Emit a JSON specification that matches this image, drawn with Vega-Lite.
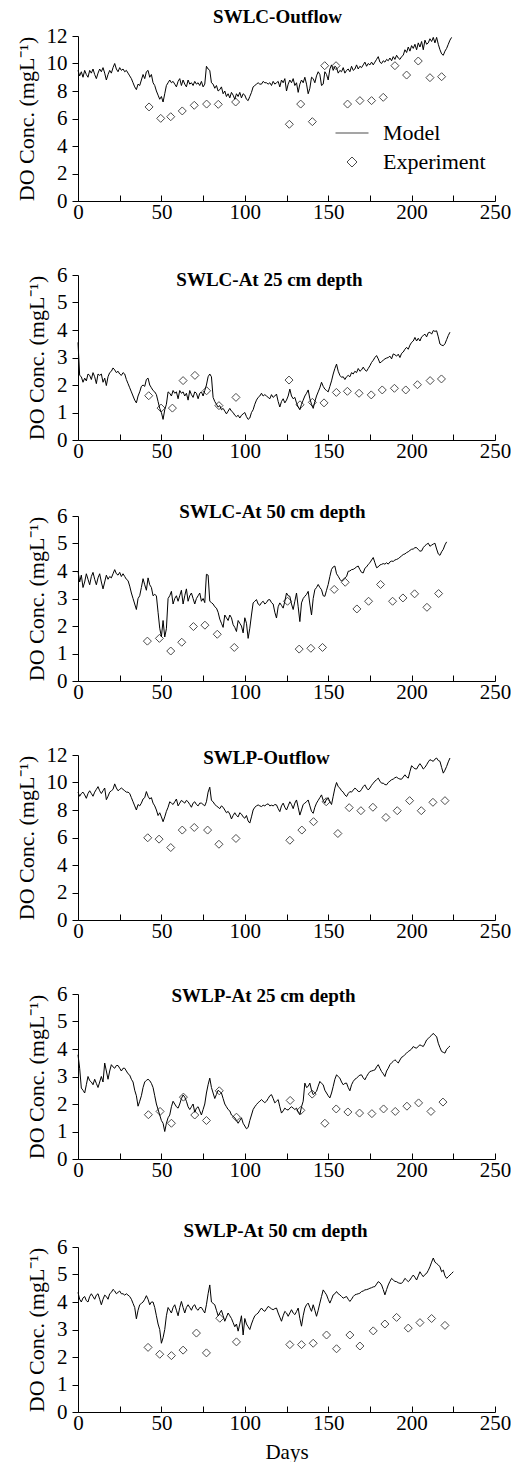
{
"$schema": "https://vega.github.io/schema/vega-lite/v6.json",
"padding": {"left": 14, "top": 8, "right": 0, "bottom": 0},
"background": "white",
"spacing": 42,
"resolve": {"scale": {"shape": "independent"}, "legend": {"shape": "independent"}},
"datasets": {
"m1": [{"d":0,"v":9.5},{"d":1,"v":9.1},{"d":2,"v":9.4},{"d":3,"v":9.0},{"d":4,"v":9.5},{"d":5,"v":9.2},{"d":6,"v":9.0},{"d":7,"v":9.5},{"d":8,"v":9.3},{"d":9,"v":9.6},{"d":10,"v":9.2},{"d":11,"v":8.9},{"d":12,"v":9.3},{"d":13,"v":9.6},{"d":14,"v":9.4},{"d":15,"v":9.7},{"d":16,"v":9.3},{"d":17,"v":8.8},{"d":18,"v":9.2},{"d":19,"v":9.5},{"d":20,"v":9.3},{"d":21,"v":9.7},{"d":22,"v":10.0},{"d":23,"v":9.6},{"d":24,"v":9.4},{"d":25,"v":9.7},{"d":26,"v":9.5},{"d":27,"v":9.6},{"d":28,"v":9.4},{"d":29,"v":9.5},{"d":30,"v":9.3},{"d":31,"v":9.1},{"d":32,"v":8.9},{"d":33,"v":8.6},{"d":34,"v":8.3},{"d":35,"v":8.1},{"d":36,"v":8.5},{"d":37,"v":8.4},{"d":38,"v":8.8},{"d":39,"v":9.2},{"d":40,"v":8.9},{"d":41,"v":9.4},{"d":42,"v":9.5},{"d":43,"v":9.0},{"d":44,"v":9.2},{"d":45,"v":8.6},{"d":46,"v":8.4},{"d":47,"v":8.0},{"d":48,"v":7.7},{"d":49,"v":7.4},{"d":50,"v":7.6},{"d":51,"v":7.2},{"d":52,"v":7.8},{"d":53,"v":8.4},{"d":54,"v":8.6},{"d":55,"v":8.8},{"d":56,"v":8.6},{"d":57,"v":8.7},{"d":58,"v":8.5},{"d":59,"v":8.3},{"d":60,"v":8.7},{"d":61,"v":8.9},{"d":62,"v":8.4},{"d":63,"v":8.8},{"d":64,"v":8.5},{"d":65,"v":8.3},{"d":66,"v":8.8},{"d":67,"v":8.5},{"d":68,"v":8.6},{"d":69,"v":8.4},{"d":70,"v":8.7},{"d":71,"v":8.5},{"d":72,"v":8.6},{"d":73,"v":8.4},{"d":74,"v":8.7},{"d":75,"v":8.3},{"d":76,"v":8.5},{"d":77,"v":9.8},{"d":78,"v":9.6},{"d":79,"v":9.5},{"d":80,"v":8.6},{"d":81,"v":8.5},{"d":82,"v":8.2},{"d":83,"v":8.4},{"d":84,"v":8.0},{"d":85,"v":8.1},{"d":86,"v":8.3},{"d":87,"v":7.8},{"d":88,"v":8.0},{"d":89,"v":7.6},{"d":90,"v":7.8},{"d":91,"v":7.5},{"d":92,"v":7.9},{"d":93,"v":7.7},{"d":94,"v":7.4},{"d":95,"v":7.8},{"d":96,"v":7.6},{"d":97,"v":7.9},{"d":98,"v":7.5},{"d":99,"v":7.8},{"d":100,"v":7.7},{"d":101,"v":7.4},{"d":102,"v":7.3},{"d":103,"v":7.6},{"d":104,"v":7.9},{"d":105,"v":8.3},{"d":106,"v":8.4},{"d":107,"v":8.5},{"d":108,"v":8.6},{"d":109,"v":8.5},{"d":110,"v":8.5},{"d":111,"v":8.7},{"d":112,"v":8.6},{"d":113,"v":8.6},{"d":114,"v":8.5},{"d":115,"v":8.6},{"d":116,"v":8.4},{"d":117,"v":8.7},{"d":118,"v":8.5},{"d":119,"v":8.6},{"d":120,"v":8.7},{"d":121,"v":8.3},{"d":122,"v":8.8},{"d":123,"v":8.6},{"d":124,"v":8.9},{"d":125,"v":8.0},{"d":126,"v":8.5},{"d":127,"v":8.8},{"d":128,"v":8.6},{"d":129,"v":8.9},{"d":130,"v":8.4},{"d":131,"v":8.6},{"d":132,"v":7.9},{"d":133,"v":8.5},{"d":134,"v":8.8},{"d":135,"v":8.6},{"d":136,"v":9.0},{"d":137,"v":8.5},{"d":138,"v":7.8},{"d":139,"v":8.2},{"d":140,"v":9.0},{"d":141,"v":8.9},{"d":142,"v":8.6},{"d":143,"v":9.1},{"d":144,"v":9.4},{"d":145,"v":9.2},{"d":146,"v":8.4},{"d":147,"v":8.5},{"d":148,"v":9.4},{"d":149,"v":9.2},{"d":150,"v":8.8},{"d":151,"v":9.6},{"d":152,"v":9.9},{"d":153,"v":9.5},{"d":154,"v":9.8},{"d":155,"v":9.7},{"d":156,"v":9.3},{"d":157,"v":9.5},{"d":158,"v":9.4},{"d":159,"v":9.7},{"d":160,"v":9.3},{"d":161,"v":9.5},{"d":162,"v":9.6},{"d":163,"v":9.4},{"d":164,"v":9.8},{"d":165,"v":9.5},{"d":166,"v":9.6},{"d":167,"v":9.9},{"d":168,"v":9.6},{"d":169,"v":9.8},{"d":170,"v":9.7},{"d":171,"v":9.9},{"d":172,"v":10.1},{"d":173,"v":9.8},{"d":174,"v":10.0},{"d":175,"v":9.9},{"d":176,"v":10.1},{"d":177,"v":9.9},{"d":178,"v":10.1},{"d":179,"v":10.3},{"d":180,"v":10.5},{"d":181,"v":10.1},{"d":182,"v":10.0},{"d":183,"v":10.2},{"d":184,"v":10.1},{"d":185,"v":10.3},{"d":186,"v":10.2},{"d":187,"v":10.4},{"d":188,"v":10.2},{"d":189,"v":10.5},{"d":190,"v":10.3},{"d":191,"v":10.6},{"d":192,"v":10.4},{"d":193,"v":10.3},{"d":194,"v":10.5},{"d":195,"v":10.6},{"d":196,"v":11.0},{"d":197,"v":10.8},{"d":198,"v":11.2},{"d":199,"v":10.9},{"d":200,"v":11.3},{"d":201,"v":11.1},{"d":202,"v":11.4},{"d":203,"v":11.0},{"d":204,"v":11.5},{"d":205,"v":11.2},{"d":206,"v":11.6},{"d":207,"v":11.0},{"d":208,"v":11.7},{"d":209,"v":11.4},{"d":210,"v":11.5},{"d":211,"v":11.8},{"d":212,"v":11.6},{"d":213,"v":11.9},{"d":214,"v":11.5},{"d":215,"v":11.9},{"d":216,"v":11.4},{"d":217,"v":11.0},{"d":218,"v":10.7},{"d":219,"v":10.6},{"d":220,"v":10.9},{"d":221,"v":11.1},{"d":222,"v":11.4},{"d":223,"v":11.7},{"d":224,"v":11.9}],
"e1": [{"d":42.6,"v":6.84,"s":"Experiment"},{"d":49.6,"v":6.01,"s":"Experiment"},{"d":55.6,"v":6.13,"s":"Experiment"},{"d":62.5,"v":6.55,"s":"Experiment"},{"d":69.7,"v":6.96,"s":"Experiment"},{"d":77.1,"v":7.05,"s":"Experiment"},{"d":84.1,"v":7.03,"s":"Experiment"},{"d":94.5,"v":7.2,"s":"Experiment"},{"d":126.7,"v":5.58,"s":"Experiment"},{"d":133.5,"v":7.05,"s":"Experiment"},{"d":140.5,"v":5.77,"s":"Experiment"},{"d":147.9,"v":9.84,"s":"Experiment"},{"d":154.7,"v":9.84,"s":"Experiment"},{"d":161.6,"v":7.05,"s":"Experiment"},{"d":169,"v":7.3,"s":"Experiment"},{"d":176,"v":7.3,"s":"Experiment"},{"d":183,"v":7.54,"s":"Experiment"},{"d":190,"v":9.84,"s":"Experiment"},{"d":197,"v":9.16,"s":"Experiment"},{"d":204,"v":10.18,"s":"Experiment"},{"d":211,"v":8.97,"s":"Experiment"},{"d":218,"v":9.04,"s":"Experiment"}],
"m2": [{"d":0,"v":3.55},{"d":1,"v":2.35},{"d":2,"v":2.3},{"d":3,"v":2.1},{"d":4,"v":2.25},{"d":5,"v":2.15},{"d":6,"v":2.4},{"d":7,"v":2.35},{"d":8,"v":2.2},{"d":9,"v":2.45},{"d":10,"v":2.3},{"d":11,"v":2.05},{"d":12,"v":2.4},{"d":13,"v":2.35},{"d":14,"v":2.4},{"d":15,"v":2.1},{"d":16,"v":2.25},{"d":17,"v":1.98},{"d":18,"v":2.3},{"d":19,"v":2.45},{"d":20,"v":2.5},{"d":21,"v":2.62},{"d":22,"v":2.55},{"d":23,"v":2.45},{"d":24,"v":2.5},{"d":25,"v":2.4},{"d":26,"v":2.35},{"d":27,"v":2.45},{"d":28,"v":2.4},{"d":29,"v":2.2},{"d":30,"v":2.05},{"d":31,"v":1.9},{"d":32,"v":1.75},{"d":33,"v":1.6},{"d":34,"v":1.45},{"d":35,"v":1.35},{"d":36,"v":1.6},{"d":37,"v":1.75},{"d":38,"v":1.95},{"d":39,"v":2.0},{"d":40,"v":1.95},{"d":41,"v":2.2},{"d":42,"v":2.25},{"d":43,"v":2.0},{"d":44,"v":1.9},{"d":45,"v":1.8},{"d":46,"v":1.75},{"d":47,"v":1.65},{"d":48,"v":1.4},{"d":49,"v":1.15},{"d":50,"v":1.0},{"d":51,"v":0.75},{"d":52,"v":1.1},{"d":53,"v":1.3},{"d":54,"v":1.75},{"d":55,"v":1.7},{"d":56,"v":1.6},{"d":57,"v":1.8},{"d":58,"v":1.7},{"d":59,"v":1.75},{"d":60,"v":1.5},{"d":61,"v":1.8},{"d":62,"v":1.7},{"d":63,"v":1.75},{"d":64,"v":1.6},{"d":65,"v":1.7},{"d":66,"v":1.45},{"d":67,"v":1.8},{"d":68,"v":1.65},{"d":69,"v":1.55},{"d":70,"v":1.75},{"d":71,"v":1.7},{"d":72,"v":1.5},{"d":73,"v":1.7},{"d":74,"v":1.75},{"d":75,"v":1.6},{"d":76,"v":1.8},{"d":77,"v":2.0},{"d":78,"v":2.3},{"d":79,"v":2.4},{"d":80,"v":2.3},{"d":81,"v":1.55},{"d":82,"v":1.4},{"d":83,"v":1.3},{"d":84,"v":1.2},{"d":85,"v":1.25},{"d":86,"v":1.1},{"d":87,"v":1.15},{"d":88,"v":1.05},{"d":89,"v":0.95},{"d":90,"v":1.05},{"d":91,"v":1.15},{"d":92,"v":1.05},{"d":93,"v":1.0},{"d":94,"v":0.9},{"d":95,"v":0.85},{"d":96,"v":0.9},{"d":97,"v":0.8},{"d":98,"v":0.9},{"d":99,"v":0.95},{"d":100,"v":1.0},{"d":101,"v":0.85},{"d":102,"v":0.75},{"d":103,"v":0.8},{"d":104,"v":1.0},{"d":105,"v":1.1},{"d":106,"v":1.3},{"d":107,"v":1.45},{"d":108,"v":1.55},{"d":109,"v":1.6},{"d":110,"v":1.7},{"d":111,"v":1.6},{"d":112,"v":1.65},{"d":113,"v":1.6},{"d":114,"v":1.55},{"d":115,"v":1.5},{"d":116,"v":1.65},{"d":117,"v":1.55},{"d":118,"v":1.6},{"d":119,"v":1.67},{"d":120,"v":1.4},{"d":121,"v":1.2},{"d":122,"v":1.4},{"d":123,"v":1.5},{"d":124,"v":1.35},{"d":125,"v":1.45},{"d":126,"v":1.6},{"d":127,"v":1.85},{"d":128,"v":1.6},{"d":129,"v":1.5},{"d":130,"v":1.55},{"d":131,"v":1.35},{"d":132,"v":1.2},{"d":133,"v":1.1},{"d":134,"v":1.3},{"d":135,"v":1.45},{"d":136,"v":1.6},{"d":137,"v":1.7},{"d":138,"v":1.82},{"d":139,"v":1.5},{"d":140,"v":1.3},{"d":141,"v":1.15},{"d":142,"v":1.4},{"d":143,"v":1.6},{"d":144,"v":1.75},{"d":145,"v":1.9},{"d":146,"v":2.1},{"d":147,"v":1.95},{"d":148,"v":1.85},{"d":149,"v":1.8},{"d":150,"v":1.75},{"d":151,"v":1.95},{"d":152,"v":2.15},{"d":153,"v":2.4},{"d":154,"v":2.6},{"d":155,"v":2.76},{"d":156,"v":2.5},{"d":157,"v":2.35},{"d":158,"v":2.28},{"d":159,"v":2.3},{"d":160,"v":2.2},{"d":161,"v":2.3},{"d":162,"v":2.35},{"d":163,"v":2.3},{"d":164,"v":2.45},{"d":165,"v":2.4},{"d":166,"v":2.5},{"d":167,"v":2.45},{"d":168,"v":2.6},{"d":169,"v":2.5},{"d":170,"v":2.55},{"d":171,"v":2.65},{"d":172,"v":2.55},{"d":173,"v":2.5},{"d":174,"v":2.6},{"d":175,"v":2.7},{"d":176,"v":2.82},{"d":177,"v":2.9},{"d":178,"v":3.0},{"d":179,"v":3.07},{"d":180,"v":2.95},{"d":181,"v":2.8},{"d":182,"v":2.85},{"d":183,"v":2.9},{"d":184,"v":2.95},{"d":185,"v":2.98},{"d":186,"v":3.0},{"d":187,"v":3.05},{"d":188,"v":2.95},{"d":189,"v":3.13},{"d":190,"v":3.1},{"d":191,"v":3.05},{"d":192,"v":3.12},{"d":193,"v":3.0},{"d":194,"v":3.15},{"d":195,"v":3.2},{"d":196,"v":3.3},{"d":197,"v":3.37},{"d":198,"v":3.3},{"d":199,"v":3.45},{"d":200,"v":3.55},{"d":201,"v":3.6},{"d":202,"v":3.73},{"d":203,"v":3.6},{"d":204,"v":3.7},{"d":205,"v":3.6},{"d":206,"v":3.75},{"d":207,"v":3.8},{"d":208,"v":3.85},{"d":209,"v":3.75},{"d":210,"v":3.9},{"d":211,"v":3.92},{"d":212,"v":3.85},{"d":213,"v":3.98},{"d":214,"v":3.95},{"d":215,"v":3.97},{"d":216,"v":3.75},{"d":217,"v":3.49},{"d":218,"v":3.45},{"d":219,"v":3.43},{"d":220,"v":3.5},{"d":221,"v":3.65},{"d":222,"v":3.8},{"d":223,"v":3.92}],
"e2": [{"d":42.4,"v":1.61},{"d":49.8,"v":1.16},{"d":56.6,"v":1.16},{"d":63,"v":2.16},{"d":70.1,"v":2.35},{"d":77.1,"v":1.79},{"d":84.5,"v":1.25},{"d":94.7,"v":1.55},{"d":126.5,"v":2.18},{"d":133.1,"v":1.28},{"d":140.5,"v":1.37},{"d":147.5,"v":1.35},{"d":154.9,"v":1.73},{"d":161.5,"v":1.77},{"d":168.5,"v":1.7},{"d":175.8,"v":1.64},{"d":182.4,"v":1.82},{"d":189.7,"v":1.88},{"d":196.5,"v":1.82},{"d":203.5,"v":2.01},{"d":211.1,"v":2.16},{"d":217.9,"v":2.22}],
"m3": [{"d":0,"v":4.0},{"d":1,"v":3.6},{"d":2,"v":3.85},{"d":3,"v":3.4},{"d":4,"v":3.6},{"d":5,"v":3.9},{"d":6,"v":3.7},{"d":7,"v":3.5},{"d":8,"v":3.8},{"d":9,"v":3.95},{"d":10,"v":3.7},{"d":11,"v":3.5},{"d":12,"v":3.75},{"d":13,"v":3.9},{"d":14,"v":3.6},{"d":15,"v":3.35},{"d":16,"v":3.6},{"d":17,"v":3.85},{"d":18,"v":3.7},{"d":19,"v":3.8},{"d":20,"v":3.75},{"d":21,"v":3.9},{"d":22,"v":4.05},{"d":23,"v":3.9},{"d":24,"v":3.85},{"d":25,"v":3.95},{"d":26,"v":3.8},{"d":27,"v":3.9},{"d":28,"v":3.8},{"d":29,"v":3.7},{"d":30,"v":3.65},{"d":31,"v":3.45},{"d":32,"v":3.2},{"d":33,"v":3.0},{"d":34,"v":2.8},{"d":35,"v":2.6},{"d":36,"v":3.0},{"d":37,"v":3.1},{"d":38,"v":3.4},{"d":39,"v":3.72},{"d":40,"v":3.5},{"d":41,"v":3.3},{"d":42,"v":3.75},{"d":43,"v":3.5},{"d":44,"v":3.4},{"d":45,"v":3.1},{"d":46,"v":3.15},{"d":47,"v":3.1},{"d":48,"v":2.5},{"d":49,"v":1.92},{"d":50,"v":1.61},{"d":51,"v":2.2},{"d":52,"v":1.6},{"d":53,"v":1.9},{"d":54,"v":3.0},{"d":55,"v":3.1},{"d":56,"v":3.26},{"d":57,"v":2.8},{"d":58,"v":3.0},{"d":59,"v":3.1},{"d":60,"v":2.9},{"d":61,"v":3.1},{"d":62,"v":3.3},{"d":63,"v":2.8},{"d":64,"v":3.1},{"d":65,"v":3.35},{"d":66,"v":2.9},{"d":67,"v":3.1},{"d":68,"v":3.2},{"d":69,"v":3.0},{"d":70,"v":2.8},{"d":71,"v":3.0},{"d":72,"v":3.1},{"d":73,"v":3.2},{"d":74,"v":2.9},{"d":75,"v":3.0},{"d":76,"v":2.85},{"d":77,"v":3.88},{"d":78,"v":3.85},{"d":79,"v":2.9},{"d":80,"v":2.85},{"d":81,"v":2.8},{"d":82,"v":2.7},{"d":83,"v":2.65},{"d":84,"v":2.5},{"d":85,"v":2.25},{"d":86,"v":2.1},{"d":87,"v":1.95},{"d":88,"v":2.4},{"d":89,"v":2.3},{"d":90,"v":2.2},{"d":91,"v":2.4},{"d":92,"v":2.3},{"d":93,"v":2.05},{"d":94,"v":1.95},{"d":95,"v":1.8},{"d":96,"v":2.2},{"d":97,"v":2.1},{"d":98,"v":2.0},{"d":99,"v":1.75},{"d":100,"v":2.3},{"d":101,"v":2.1},{"d":102,"v":1.55},{"d":103,"v":1.92},{"d":104,"v":2.4},{"d":105,"v":2.84},{"d":106,"v":2.9},{"d":107,"v":2.96},{"d":108,"v":2.8},{"d":109,"v":2.75},{"d":110,"v":2.85},{"d":111,"v":2.9},{"d":112,"v":2.8},{"d":113,"v":2.85},{"d":114,"v":2.95},{"d":115,"v":2.96},{"d":116,"v":2.85},{"d":117,"v":2.8},{"d":118,"v":2.5},{"d":119,"v":2.29},{"d":120,"v":2.7},{"d":121,"v":2.84},{"d":122,"v":2.75},{"d":123,"v":2.65},{"d":124,"v":2.9},{"d":125,"v":3.2},{"d":126,"v":3.1},{"d":127,"v":3.08},{"d":128,"v":2.8},{"d":129,"v":2.6},{"d":130,"v":2.9},{"d":131,"v":3.2},{"d":132,"v":2.7},{"d":133,"v":2.16},{"d":134,"v":2.84},{"d":135,"v":3.0},{"d":136,"v":3.08},{"d":137,"v":3.15},{"d":138,"v":3.26},{"d":139,"v":2.8},{"d":140,"v":2.4},{"d":141,"v":3.0},{"d":142,"v":3.32},{"d":143,"v":3.4},{"d":144,"v":3.51},{"d":145,"v":3.4},{"d":146,"v":3.32},{"d":147,"v":3.1},{"d":148,"v":3.08},{"d":149,"v":3.3},{"d":150,"v":3.51},{"d":151,"v":3.8},{"d":152,"v":4.06},{"d":153,"v":4.15},{"d":154,"v":4.18},{"d":155,"v":3.9},{"d":156,"v":3.81},{"d":157,"v":3.7},{"d":158,"v":3.63},{"d":159,"v":3.7},{"d":160,"v":3.75},{"d":161,"v":3.8},{"d":162,"v":3.99},{"d":163,"v":4.0},{"d":164,"v":4.05},{"d":165,"v":4.06},{"d":166,"v":4.1},{"d":167,"v":4.15},{"d":168,"v":4.18},{"d":169,"v":4.05},{"d":170,"v":3.95},{"d":171,"v":3.93},{"d":172,"v":4.1},{"d":173,"v":4.15},{"d":174,"v":4.24},{"d":175,"v":4.3},{"d":176,"v":4.4},{"d":177,"v":4.49},{"d":178,"v":4.3},{"d":179,"v":4.12},{"d":180,"v":4.15},{"d":181,"v":4.22},{"d":182,"v":4.24},{"d":183,"v":4.27},{"d":184,"v":4.25},{"d":185,"v":4.3},{"d":186,"v":4.25},{"d":187,"v":4.33},{"d":188,"v":4.36},{"d":189,"v":4.35},{"d":190,"v":4.4},{"d":191,"v":4.42},{"d":192,"v":4.45},{"d":193,"v":4.5},{"d":194,"v":4.55},{"d":195,"v":4.6},{"d":196,"v":4.62},{"d":197,"v":4.67},{"d":198,"v":4.7},{"d":199,"v":4.75},{"d":200,"v":4.79},{"d":201,"v":4.8},{"d":202,"v":4.85},{"d":203,"v":4.85},{"d":204,"v":4.78},{"d":205,"v":4.72},{"d":206,"v":4.73},{"d":207,"v":4.85},{"d":208,"v":4.92},{"d":209,"v":4.97},{"d":210,"v":5.01},{"d":211,"v":4.9},{"d":212,"v":4.94},{"d":213,"v":4.98},{"d":214,"v":5.01},{"d":215,"v":4.8},{"d":216,"v":4.62},{"d":217,"v":4.57},{"d":218,"v":4.7},{"d":219,"v":4.79},{"d":220,"v":4.95},{"d":221,"v":5.06}],
"e3": [{"d":41.6,"v":1.45},{"d":48.8,"v":1.55},{"d":55.6,"v":1.09},{"d":62.2,"v":1.41},{"d":69.2,"v":1.98},{"d":76.1,"v":2.03},{"d":83.5,"v":1.7},{"d":93.7,"v":1.22},{"d":125.6,"v":2.9},{"d":132.6,"v":1.16},{"d":139.6,"v":1.19},{"d":146.6,"v":1.22},{"d":153.6,"v":3.33},{"d":160.2,"v":3.59},{"d":167.2,"v":2.62},{"d":174.2,"v":2.9},{"d":181.4,"v":3.51},{"d":188.6,"v":2.9},{"d":194.8,"v":3.02},{"d":201.8,"v":3.17},{"d":209.2,"v":2.68},{"d":216.2,"v":3.18}],
"m4": [{"d":0,"v":9.3},{"d":1,"v":9.0},{"d":2,"v":9.2},{"d":3,"v":9.3},{"d":4,"v":9.1},{"d":5,"v":8.85},{"d":6,"v":9.2},{"d":7,"v":9.4},{"d":8,"v":9.2},{"d":9,"v":9.0},{"d":10,"v":9.3},{"d":11,"v":9.5},{"d":12,"v":9.7},{"d":13,"v":9.4},{"d":14,"v":9.2},{"d":15,"v":9.4},{"d":16,"v":9.6},{"d":17,"v":8.75},{"d":18,"v":9.0},{"d":19,"v":9.3},{"d":20,"v":9.4},{"d":21,"v":9.5},{"d":22,"v":9.9},{"d":23,"v":9.6},{"d":24,"v":9.4},{"d":25,"v":9.5},{"d":26,"v":9.6},{"d":27,"v":9.5},{"d":28,"v":9.4},{"d":29,"v":9.3},{"d":30,"v":9.3},{"d":31,"v":9.2},{"d":32,"v":8.9},{"d":33,"v":8.6},{"d":34,"v":8.3},{"d":35,"v":8.0},{"d":36,"v":8.4},{"d":37,"v":8.3},{"d":38,"v":8.5},{"d":39,"v":8.8},{"d":40,"v":8.9},{"d":41,"v":9.34},{"d":42,"v":9.0},{"d":43,"v":8.8},{"d":44,"v":8.9},{"d":45,"v":8.5},{"d":46,"v":8.3},{"d":47,"v":8.0},{"d":48,"v":7.6},{"d":49,"v":7.8},{"d":50,"v":7.5},{"d":51,"v":7.15},{"d":52,"v":7.5},{"d":53,"v":7.9},{"d":54,"v":8.2},{"d":55,"v":8.6},{"d":56,"v":8.5},{"d":57,"v":8.4},{"d":58,"v":8.6},{"d":59,"v":8.8},{"d":60,"v":8.3},{"d":61,"v":8.5},{"d":62,"v":8.7},{"d":63,"v":8.6},{"d":64,"v":8.5},{"d":65,"v":8.7},{"d":66,"v":8.6},{"d":67,"v":8.4},{"d":68,"v":8.2},{"d":69,"v":8.5},{"d":70,"v":8.6},{"d":71,"v":8.4},{"d":72,"v":8.3},{"d":73,"v":8.5},{"d":74,"v":8.5},{"d":75,"v":8.4},{"d":76,"v":8.3},{"d":77,"v":8.6},{"d":78,"v":9.3},{"d":79,"v":9.66},{"d":80,"v":8.7},{"d":81,"v":8.6},{"d":82,"v":8.4},{"d":83,"v":8.3},{"d":84,"v":8.2},{"d":85,"v":8.1},{"d":86,"v":8.3},{"d":87,"v":8.2},{"d":88,"v":8.0},{"d":89,"v":7.8},{"d":90,"v":7.9},{"d":91,"v":7.7},{"d":92,"v":7.35},{"d":93,"v":7.6},{"d":94,"v":7.8},{"d":95,"v":7.6},{"d":96,"v":7.5},{"d":97,"v":7.8},{"d":98,"v":7.7},{"d":99,"v":7.5},{"d":100,"v":7.4},{"d":101,"v":7.6},{"d":102,"v":7.2},{"d":103,"v":7.05},{"d":104,"v":7.5},{"d":105,"v":8.0},{"d":106,"v":8.2},{"d":107,"v":8.3},{"d":108,"v":8.37},{"d":109,"v":8.3},{"d":110,"v":8.25},{"d":111,"v":8.35},{"d":112,"v":8.3},{"d":113,"v":8.4},{"d":114,"v":8.45},{"d":115,"v":8.3},{"d":116,"v":8.35},{"d":117,"v":8.3},{"d":118,"v":8.4},{"d":119,"v":8.37},{"d":120,"v":8.1},{"d":121,"v":7.88},{"d":122,"v":8.3},{"d":123,"v":8.5},{"d":124,"v":8.2},{"d":125,"v":8.0},{"d":126,"v":8.3},{"d":127,"v":8.6},{"d":128,"v":8.4},{"d":129,"v":8.1},{"d":130,"v":8.5},{"d":131,"v":8.73},{"d":132,"v":8.2},{"d":133,"v":7.63},{"d":134,"v":8.0},{"d":135,"v":8.4},{"d":136,"v":8.5},{"d":137,"v":8.6},{"d":138,"v":8.73},{"d":139,"v":8.3},{"d":140,"v":7.9},{"d":141,"v":7.76},{"d":142,"v":8.2},{"d":143,"v":8.5},{"d":144,"v":8.7},{"d":145,"v":8.9},{"d":146,"v":9.1},{"d":147,"v":8.7},{"d":148,"v":8.5},{"d":149,"v":8.8},{"d":150,"v":8.9},{"d":151,"v":8.6},{"d":152,"v":8.4},{"d":153,"v":9.0},{"d":154,"v":9.59},{"d":155,"v":10.0},{"d":156,"v":9.7},{"d":157,"v":9.59},{"d":158,"v":9.4},{"d":159,"v":9.3},{"d":160,"v":9.1},{"d":161,"v":8.98},{"d":162,"v":9.2},{"d":163,"v":9.34},{"d":164,"v":9.3},{"d":165,"v":9.45},{"d":166,"v":9.59},{"d":167,"v":9.5},{"d":168,"v":9.35},{"d":169,"v":9.34},{"d":170,"v":9.5},{"d":171,"v":9.7},{"d":172,"v":9.83},{"d":173,"v":9.6},{"d":174,"v":9.46},{"d":175,"v":9.6},{"d":176,"v":9.8},{"d":177,"v":9.95},{"d":178,"v":10.1},{"d":179,"v":10.2},{"d":180,"v":10.32},{"d":181,"v":10.1},{"d":182,"v":9.95},{"d":183,"v":9.95},{"d":184,"v":9.85},{"d":185,"v":9.83},{"d":186,"v":10.0},{"d":187,"v":10.1},{"d":188,"v":10.2},{"d":189,"v":10.25},{"d":190,"v":10.35},{"d":191,"v":10.39},{"d":192,"v":10.3},{"d":193,"v":10.25},{"d":194,"v":10.24},{"d":195,"v":10.4},{"d":196,"v":10.56},{"d":197,"v":10.4},{"d":198,"v":10.32},{"d":199,"v":10.8},{"d":200,"v":11.22},{"d":201,"v":11.1},{"d":202,"v":11.0},{"d":203,"v":10.98},{"d":204,"v":11.2},{"d":205,"v":11.37},{"d":206,"v":11.2},{"d":207,"v":10.98},{"d":208,"v":11.1},{"d":209,"v":11.29},{"d":210,"v":11.5},{"d":211,"v":11.66},{"d":212,"v":11.6},{"d":213,"v":11.54},{"d":214,"v":11.7},{"d":215,"v":11.78},{"d":216,"v":11.6},{"d":217,"v":11.54},{"d":218,"v":11.1},{"d":219,"v":10.68},{"d":220,"v":10.9},{"d":221,"v":11.17},{"d":222,"v":11.5},{"d":223,"v":11.78}],
"e4": [{"d":41.8,"v":5.98},{"d":48.6,"v":5.88},{"d":55.6,"v":5.27},{"d":62.5,"v":6.54},{"d":69.7,"v":6.73},{"d":77.7,"v":6.54},{"d":84.5,"v":5.51},{"d":94.7,"v":5.93},{"d":127,"v":5.8},{"d":134.2,"v":6.54},{"d":141.2,"v":7.15},{"d":148.8,"v":8.6},{"d":155.8,"v":6.29},{"d":162.6,"v":8.17},{"d":169.6,"v":7.95},{"d":176.8,"v":8.2},{"d":184.6,"v":7.46},{"d":191.4,"v":7.95},{"d":198.8,"v":8.68},{"d":205.8,"v":7.95},{"d":212.8,"v":8.56},{"d":220,"v":8.68}],
"m5": [{"d":0,"v":3.79},{"d":1,"v":3.3},{"d":2,"v":2.58},{"d":3,"v":2.5},{"d":4,"v":2.4},{"d":5,"v":2.7},{"d":6,"v":3.0},{"d":7,"v":2.85},{"d":8,"v":2.8},{"d":9,"v":2.7},{"d":10,"v":2.9},{"d":11,"v":2.75},{"d":12,"v":2.6},{"d":13,"v":2.8},{"d":14,"v":3.0},{"d":15,"v":2.8},{"d":16,"v":3.49},{"d":17,"v":3.2},{"d":18,"v":2.9},{"d":19,"v":3.2},{"d":20,"v":3.43},{"d":21,"v":3.35},{"d":22,"v":3.3},{"d":23,"v":3.4},{"d":24,"v":3.4},{"d":25,"v":3.3},{"d":26,"v":3.2},{"d":27,"v":3.3},{"d":28,"v":3.3},{"d":29,"v":3.2},{"d":30,"v":3.1},{"d":31,"v":3.05},{"d":32,"v":2.9},{"d":33,"v":2.8},{"d":34,"v":2.5},{"d":35,"v":2.3},{"d":36,"v":1.92},{"d":37,"v":2.1},{"d":38,"v":2.3},{"d":39,"v":2.6},{"d":40,"v":2.8},{"d":41,"v":2.86},{"d":42,"v":2.9},{"d":43,"v":2.85},{"d":44,"v":2.75},{"d":45,"v":2.6},{"d":46,"v":2.3},{"d":47,"v":2.0},{"d":48,"v":1.8},{"d":49,"v":1.6},{"d":50,"v":1.4},{"d":51,"v":1.3},{"d":52,"v":1.0},{"d":53,"v":1.3},{"d":54,"v":1.5},{"d":55,"v":1.6},{"d":56,"v":1.9},{"d":57,"v":2.1},{"d":58,"v":2.0},{"d":59,"v":1.9},{"d":60,"v":1.85},{"d":61,"v":2.0},{"d":62,"v":2.2},{"d":63,"v":2.33},{"d":64,"v":2.25},{"d":65,"v":2.1},{"d":66,"v":1.9},{"d":67,"v":1.8},{"d":68,"v":1.9},{"d":69,"v":2.0},{"d":70,"v":1.7},{"d":71,"v":1.85},{"d":72,"v":1.9},{"d":73,"v":1.75},{"d":74,"v":1.6},{"d":75,"v":1.8},{"d":76,"v":2.0},{"d":77,"v":2.4},{"d":78,"v":2.7},{"d":79,"v":2.94},{"d":80,"v":2.6},{"d":81,"v":2.4},{"d":82,"v":2.2},{"d":83,"v":2.35},{"d":84,"v":2.5},{"d":85,"v":2.45},{"d":86,"v":2.4},{"d":87,"v":2.2},{"d":88,"v":2.0},{"d":89,"v":1.9},{"d":90,"v":1.8},{"d":91,"v":1.75},{"d":92,"v":1.6},{"d":93,"v":1.55},{"d":94,"v":1.5},{"d":95,"v":1.4},{"d":96,"v":1.3},{"d":97,"v":1.4},{"d":98,"v":1.5},{"d":99,"v":1.3},{"d":100,"v":1.2},{"d":101,"v":1.1},{"d":102,"v":1.15},{"d":103,"v":1.4},{"d":104,"v":1.6},{"d":105,"v":1.8},{"d":106,"v":1.9},{"d":107,"v":1.98},{"d":108,"v":2.05},{"d":109,"v":2.1},{"d":110,"v":2.16},{"d":111,"v":2.1},{"d":112,"v":2.05},{"d":113,"v":2.1},{"d":114,"v":2.2},{"d":115,"v":2.3},{"d":116,"v":2.34},{"d":117,"v":2.2},{"d":118,"v":2.04},{"d":119,"v":2.1},{"d":120,"v":2.16},{"d":121,"v":1.9},{"d":122,"v":1.67},{"d":123,"v":1.75},{"d":124,"v":1.85},{"d":125,"v":1.8},{"d":126,"v":1.78},{"d":127,"v":1.85},{"d":128,"v":1.9},{"d":129,"v":1.85},{"d":130,"v":1.8},{"d":131,"v":1.85},{"d":132,"v":1.7},{"d":133,"v":1.61},{"d":134,"v":1.9},{"d":135,"v":2.1},{"d":136,"v":2.76},{"d":137,"v":2.6},{"d":138,"v":2.64},{"d":139,"v":2.76},{"d":140,"v":2.5},{"d":141,"v":2.34},{"d":142,"v":2.4},{"d":143,"v":2.46},{"d":144,"v":2.65},{"d":145,"v":2.82},{"d":146,"v":2.75},{"d":147,"v":2.7},{"d":148,"v":2.5},{"d":149,"v":2.4},{"d":150,"v":2.3},{"d":151,"v":2.22},{"d":152,"v":2.4},{"d":153,"v":2.64},{"d":154,"v":2.9},{"d":155,"v":3.06},{"d":156,"v":3.0},{"d":157,"v":2.94},{"d":158,"v":2.8},{"d":159,"v":2.7},{"d":160,"v":2.75},{"d":161,"v":2.76},{"d":162,"v":2.6},{"d":163,"v":2.48},{"d":164,"v":2.7},{"d":165,"v":2.82},{"d":166,"v":2.9},{"d":167,"v":2.94},{"d":168,"v":3.0},{"d":169,"v":3.05},{"d":170,"v":3.06},{"d":171,"v":2.95},{"d":172,"v":2.88},{"d":173,"v":3.0},{"d":174,"v":3.1},{"d":175,"v":3.18},{"d":176,"v":3.2},{"d":177,"v":3.22},{"d":178,"v":3.24},{"d":179,"v":3.35},{"d":180,"v":3.43},{"d":181,"v":3.3},{"d":182,"v":3.18},{"d":183,"v":3.1},{"d":184,"v":3.0},{"d":185,"v":3.2},{"d":186,"v":3.3},{"d":187,"v":3.43},{"d":188,"v":3.5},{"d":189,"v":3.55},{"d":190,"v":3.61},{"d":191,"v":3.55},{"d":192,"v":3.49},{"d":193,"v":3.6},{"d":194,"v":3.7},{"d":195,"v":3.73},{"d":196,"v":3.8},{"d":197,"v":3.85},{"d":198,"v":3.91},{"d":199,"v":3.95},{"d":200,"v":4.0},{"d":201,"v":4.09},{"d":202,"v":4.05},{"d":203,"v":4.03},{"d":204,"v":4.1},{"d":205,"v":4.15},{"d":206,"v":4.12},{"d":207,"v":4.09},{"d":208,"v":4.2},{"d":209,"v":4.33},{"d":210,"v":4.38},{"d":211,"v":4.45},{"d":212,"v":4.5},{"d":213,"v":4.57},{"d":214,"v":4.5},{"d":215,"v":4.45},{"d":216,"v":4.21},{"d":217,"v":4.05},{"d":218,"v":3.91},{"d":219,"v":3.88},{"d":220,"v":3.85},{"d":221,"v":3.99},{"d":222,"v":4.05},{"d":223,"v":4.11}],
"e5": [{"d":42.2,"v":1.61},{"d":49.2,"v":1.73},{"d":56,"v":1.3},{"d":63.2,"v":2.25},{"d":70,"v":1.6},{"d":77,"v":1.4},{"d":84.7,"v":2.48},{"d":95,"v":1.52},{"d":127.2,"v":2.13},{"d":133.6,"v":1.77},{"d":140.4,"v":2.36},{"d":148,"v":1.3},{"d":154.8,"v":1.82},{"d":161.8,"v":1.71},{"d":168.8,"v":1.67},{"d":176.2,"v":1.65},{"d":183.2,"v":1.82},{"d":190.2,"v":1.73},{"d":197.2,"v":1.92},{"d":204.2,"v":2.04},{"d":211.6,"v":1.73},{"d":218.8,"v":2.07}],
"m6": [{"d":0,"v":4.35},{"d":1,"v":4.1},{"d":2,"v":4.0},{"d":3,"v":4.15},{"d":4,"v":4.2},{"d":5,"v":4.05},{"d":6,"v":4.0},{"d":7,"v":4.2},{"d":8,"v":4.3},{"d":9,"v":4.2},{"d":10,"v":4.1},{"d":11,"v":4.25},{"d":12,"v":4.3},{"d":13,"v":4.1},{"d":14,"v":3.9},{"d":15,"v":4.1},{"d":16,"v":4.25},{"d":17,"v":4.2},{"d":18,"v":4.1},{"d":19,"v":4.3},{"d":20,"v":4.35},{"d":21,"v":4.46},{"d":22,"v":4.4},{"d":23,"v":4.3},{"d":24,"v":4.35},{"d":25,"v":4.4},{"d":26,"v":4.3},{"d":27,"v":4.3},{"d":28,"v":4.25},{"d":29,"v":4.3},{"d":30,"v":4.25},{"d":31,"v":4.2},{"d":32,"v":4.1},{"d":33,"v":3.95},{"d":34,"v":3.8},{"d":35,"v":3.39},{"d":36,"v":3.7},{"d":37,"v":3.9},{"d":38,"v":3.95},{"d":39,"v":4.0},{"d":40,"v":4.1},{"d":41,"v":4.23},{"d":42,"v":4.1},{"d":43,"v":3.9},{"d":44,"v":4.0},{"d":45,"v":4.0},{"d":46,"v":3.8},{"d":47,"v":3.5},{"d":48,"v":3.2},{"d":49,"v":3.0},{"d":50,"v":2.5},{"d":51,"v":2.7},{"d":52,"v":3.0},{"d":53,"v":3.5},{"d":54,"v":3.8},{"d":55,"v":3.7},{"d":56,"v":3.6},{"d":57,"v":3.8},{"d":58,"v":3.9},{"d":59,"v":3.7},{"d":60,"v":3.5},{"d":61,"v":3.8},{"d":62,"v":4.02},{"d":63,"v":3.8},{"d":64,"v":3.6},{"d":65,"v":3.8},{"d":66,"v":3.9},{"d":67,"v":3.8},{"d":68,"v":3.7},{"d":69,"v":3.85},{"d":70,"v":3.9},{"d":71,"v":3.75},{"d":72,"v":3.7},{"d":73,"v":3.8},{"d":74,"v":3.8},{"d":75,"v":3.7},{"d":76,"v":3.6},{"d":77,"v":3.9},{"d":78,"v":4.3},{"d":79,"v":4.62},{"d":80,"v":4.0},{"d":81,"v":3.95},{"d":82,"v":3.9},{"d":83,"v":3.7},{"d":84,"v":3.5},{"d":85,"v":3.6},{"d":86,"v":3.7},{"d":87,"v":3.5},{"d":88,"v":3.3},{"d":89,"v":3.45},{"d":90,"v":3.6},{"d":91,"v":3.5},{"d":92,"v":3.4},{"d":93,"v":3.25},{"d":94,"v":3.1},{"d":95,"v":3.2},{"d":96,"v":2.94},{"d":97,"v":3.2},{"d":98,"v":3.5},{"d":99,"v":2.8},{"d":100,"v":3.4},{"d":101,"v":3.2},{"d":102,"v":3.1},{"d":103,"v":3.0},{"d":104,"v":3.2},{"d":105,"v":3.36},{"d":106,"v":3.5},{"d":107,"v":3.55},{"d":108,"v":3.6},{"d":109,"v":3.7},{"d":110,"v":3.78},{"d":111,"v":3.7},{"d":112,"v":3.66},{"d":113,"v":3.75},{"d":114,"v":3.84},{"d":115,"v":3.8},{"d":116,"v":3.75},{"d":117,"v":3.72},{"d":118,"v":3.76},{"d":119,"v":3.78},{"d":120,"v":3.6},{"d":121,"v":3.45},{"d":122,"v":3.3},{"d":123,"v":3.5},{"d":124,"v":3.66},{"d":125,"v":3.6},{"d":126,"v":3.48},{"d":127,"v":3.6},{"d":128,"v":3.72},{"d":129,"v":3.6},{"d":130,"v":3.54},{"d":131,"v":3.65},{"d":132,"v":3.78},{"d":133,"v":3.4},{"d":134,"v":3.12},{"d":135,"v":3.5},{"d":136,"v":3.78},{"d":137,"v":3.9},{"d":138,"v":3.96},{"d":139,"v":3.8},{"d":140,"v":3.66},{"d":141,"v":3.9},{"d":142,"v":3.7},{"d":143,"v":3.48},{"d":144,"v":3.7},{"d":145,"v":3.96},{"d":146,"v":4.2},{"d":147,"v":4.44},{"d":148,"v":4.35},{"d":149,"v":4.26},{"d":150,"v":4.1},{"d":151,"v":3.96},{"d":152,"v":4.1},{"d":153,"v":4.26},{"d":154,"v":4.3},{"d":155,"v":4.38},{"d":156,"v":4.3},{"d":157,"v":4.26},{"d":158,"v":4.2},{"d":159,"v":4.14},{"d":160,"v":4.17},{"d":161,"v":4.2},{"d":162,"v":4.1},{"d":163,"v":4.02},{"d":164,"v":4.1},{"d":165,"v":4.2},{"d":166,"v":4.26},{"d":167,"v":4.28},{"d":168,"v":4.3},{"d":169,"v":4.32},{"d":170,"v":4.38},{"d":171,"v":4.4},{"d":172,"v":4.44},{"d":173,"v":4.45},{"d":174,"v":4.47},{"d":175,"v":4.5},{"d":176,"v":4.52},{"d":177,"v":4.55},{"d":178,"v":4.56},{"d":179,"v":4.65},{"d":180,"v":4.74},{"d":181,"v":4.7},{"d":182,"v":4.62},{"d":183,"v":4.45},{"d":184,"v":4.26},{"d":185,"v":4.45},{"d":186,"v":4.62},{"d":187,"v":4.75},{"d":188,"v":4.86},{"d":189,"v":4.8},{"d":190,"v":4.75},{"d":191,"v":4.74},{"d":192,"v":4.7},{"d":193,"v":4.68},{"d":194,"v":4.68},{"d":195,"v":4.75},{"d":196,"v":4.86},{"d":197,"v":4.8},{"d":198,"v":4.74},{"d":199,"v":4.8},{"d":200,"v":4.9},{"d":201,"v":4.98},{"d":202,"v":4.9},{"d":203,"v":4.8},{"d":204,"v":4.95},{"d":205,"v":5.1},{"d":206,"v":5.0},{"d":207,"v":4.92},{"d":208,"v":5.0},{"d":209,"v":5.04},{"d":210,"v":5.15},{"d":211,"v":5.28},{"d":212,"v":5.45},{"d":213,"v":5.6},{"d":214,"v":5.45},{"d":215,"v":5.4},{"d":216,"v":5.35},{"d":217,"v":5.28},{"d":218,"v":5.1},{"d":219,"v":5.16},{"d":220,"v":4.95},{"d":221,"v":4.86},{"d":222,"v":4.92},{"d":223,"v":4.98},{"d":224,"v":5.04},{"d":225,"v":5.1}],
"e6": [{"d":42,"v":2.35},{"d":49,"v":2.1},{"d":56,"v":2.05},{"d":63,"v":2.25},{"d":71,"v":2.87},{"d":77,"v":2.15},{"d":85,"v":3.41},{"d":95,"v":2.55},{"d":127,"v":2.45},{"d":134,"v":2.45},{"d":141,"v":2.5},{"d":149,"v":2.8},{"d":155,"v":2.3},{"d":163,"v":2.8},{"d":169,"v":2.4},{"d":177,"v":2.95},{"d":184,"v":3.2},{"d":191,"v":3.44},{"d":198,"v":3.05},{"d":205,"v":3.25},{"d":212,"v":3.4},{"d":220,"v":3.15}]
},
"vconcat": [
{"width": 417, "height": 165, "title": {"text": "SWLC-Outflow", "offset": -2, "dx": -9},
 "layer": [
  {"data": {"name": "m1"}, "mark": {"type": "line", "color": "black", "strokeWidth": 1},
   "encoding": {"x": {"field": "d", "type": "quantitative", "scale": {"domain": [0, 250], "nice": false}, "axis": {"title": null, "values": [0,25,50,75,100,125,150,175,200,225,250], "tickCount": 20, "format": "d", "labelExpr": "datum.value % 50 === 0 ? datum.label : ''", "labelOverlap": false}},
                "y": {"field": "v", "type": "quantitative", "scale": {"domain": [0, 12], "nice": false}, "axis": {"title": "DO Conc. (mgL⁻¹)", "values": [0,2,4,6,8,10,12], "tickCount": 20, "format": "d", "labelOverlap": false}}}},
  {"data": {"name": "e1"}, "mark": {"type": "point", "filled": false, "color": "black", "size": 64, "strokeWidth": 1},
   "encoding": {"x": {"field": "d", "type": "quantitative"},
                "y": {"field": "v", "type": "quantitative", "title": "DO Conc. (mgL⁻¹)"},
                "shape": {"field": "s", "type": "nominal", "scale": {"domain": ["Model", "Experiment"], "range": ["M-3.3,0H3.3", "diamond"]},
                          "legend": {"title": null, "orient": "none", "legendX": 263, "legendY": 86, "symbolSize": 100, "symbolStrokeColor": "black", "symbolFillColor": "transparent", "symbolStrokeWidth": 1, "labelFont": "Liberation Serif", "labelFontSize": 22, "labelColor": "black", "labelOffset": 20, "rowPadding": 7, "padding": 0}}}}
 ]},
{"width": 417, "height": 165, "title": {"text": "SWLC-At 25 cm depth", "offset": -26, "dx": -17},
 "layer": [
  {"data": {"name": "m2"}, "mark": {"type": "line", "color": "black", "strokeWidth": 1},
   "encoding": {"x": {"field": "d", "type": "quantitative", "scale": {"domain": [0, 250], "nice": false}, "axis": {"title": null, "values": [0,25,50,75,100,125,150,175,200,225,250], "tickCount": 20, "format": "d", "labelExpr": "datum.value % 50 === 0 ? datum.label : ''", "labelOverlap": false}},
                "y": {"field": "v", "type": "quantitative", "scale": {"domain": [0, 6], "nice": false}, "axis": {"title": "DO Conc. (mgL⁻¹)", "values": [0,1,2,3,4,5,6], "tickCount": 20, "format": "d", "labelOverlap": false}}}},
  {"data": {"name": "e2"}, "mark": {"type": "point", "shape": "diamond", "filled": false, "color": "black", "size": 64, "strokeWidth": 1},
   "encoding": {"x": {"field": "d", "type": "quantitative"}, "y": {"field": "v", "type": "quantitative", "title": "DO Conc. (mgL⁻¹)"}}}
 ]},
{"width": 417, "height": 165, "title": {"text": "SWLC-At 50 cm depth", "offset": -17, "dx": -14},
 "layer": [
  {"data": {"name": "m3"}, "mark": {"type": "line", "color": "black", "strokeWidth": 1},
   "encoding": {"x": {"field": "d", "type": "quantitative", "scale": {"domain": [0, 250], "nice": false}, "axis": {"title": null, "values": [0,25,50,75,100,125,150,175,200,225,250], "tickCount": 20, "format": "d", "labelExpr": "datum.value % 50 === 0 ? datum.label : ''", "labelOverlap": false}},
                "y": {"field": "v", "type": "quantitative", "scale": {"domain": [0, 6], "nice": false}, "axis": {"title": "DO Conc. (mgL⁻¹)", "values": [0,1,2,3,4,5,6], "tickCount": 20, "format": "d", "labelOverlap": false}}}},
  {"data": {"name": "e3"}, "mark": {"type": "point", "shape": "diamond", "filled": false, "color": "black", "size": 64, "strokeWidth": 1},
   "encoding": {"x": {"field": "d", "type": "quantitative"}, "y": {"field": "v", "type": "quantitative", "title": "DO Conc. (mgL⁻¹)"}}}
 ]},
{"width": 417, "height": 165, "title": {"text": "SWLP-Outflow", "offset": -24, "dx": -20},
 "layer": [
  {"data": {"name": "m4"}, "mark": {"type": "line", "color": "black", "strokeWidth": 1},
   "encoding": {"x": {"field": "d", "type": "quantitative", "scale": {"domain": [0, 250], "nice": false}, "axis": {"title": null, "values": [0,25,50,75,100,125,150,175,200,225,250], "tickCount": 20, "format": "d", "labelExpr": "datum.value % 50 === 0 ? datum.label : ''", "labelOverlap": false}},
                "y": {"field": "v", "type": "quantitative", "scale": {"domain": [0, 12], "nice": false}, "axis": {"title": "DO Conc. (mgL⁻¹)", "values": [0,2,4,6,8,10,12], "tickCount": 20, "format": "d", "labelOverlap": false}}}},
  {"data": {"name": "e4"}, "mark": {"type": "point", "shape": "diamond", "filled": false, "color": "black", "size": 64, "strokeWidth": 1},
   "encoding": {"x": {"field": "d", "type": "quantitative"}, "y": {"field": "v", "type": "quantitative", "title": "DO Conc. (mgL⁻¹)"}}}
 ]},
{"width": 417, "height": 165, "title": {"text": "SWLP-At 25 cm depth", "offset": -23, "dx": -23},
 "layer": [
  {"data": {"name": "m5"}, "mark": {"type": "line", "color": "black", "strokeWidth": 1},
   "encoding": {"x": {"field": "d", "type": "quantitative", "scale": {"domain": [0, 250], "nice": false}, "axis": {"title": null, "values": [0,25,50,75,100,125,150,175,200,225,250], "tickCount": 20, "format": "d", "labelExpr": "datum.value % 50 === 0 ? datum.label : ''", "labelOverlap": false}},
                "y": {"field": "v", "type": "quantitative", "scale": {"domain": [0, 6], "nice": false}, "axis": {"title": "DO Conc. (mgL⁻¹)", "values": [0,1,2,3,4,5,6], "tickCount": 20, "format": "d", "labelOverlap": false}}}},
  {"data": {"name": "e5"}, "mark": {"type": "point", "shape": "diamond", "filled": false, "color": "black", "size": 64, "strokeWidth": 1},
   "encoding": {"x": {"field": "d", "type": "quantitative"}, "y": {"field": "v", "type": "quantitative", "title": "DO Conc. (mgL⁻¹)"}}}
 ]},
{"width": 417, "height": 165, "title": {"text": "SWLP-At 50 cm depth", "offset": -5, "dx": -11},
 "layer": [
  {"data": {"name": "m6"}, "mark": {"type": "line", "color": "black", "strokeWidth": 1},
   "encoding": {"x": {"field": "d", "type": "quantitative", "scale": {"domain": [0, 250], "nice": false}, "axis": {"title": "Days", "values": [0,25,50,75,100,125,150,175,200,225,250], "tickCount": 20, "format": "d", "labelExpr": "datum.value % 50 === 0 ? datum.label : ''", "labelOverlap": false}},
                "y": {"field": "v", "type": "quantitative", "scale": {"domain": [0, 6], "nice": false}, "axis": {"title": "DO Conc. (mgL⁻¹)", "values": [0,1,2,3,4,5,6], "tickCount": 20, "format": "d", "labelOverlap": false}}}},
  {"data": {"name": "e6"}, "mark": {"type": "point", "shape": "diamond", "filled": false, "color": "black", "size": 64, "strokeWidth": 1},
   "encoding": {"x": {"field": "d", "type": "quantitative", "title": "Days"}, "y": {"field": "v", "type": "quantitative", "title": "DO Conc. (mgL⁻¹)"}}}
 ]}
],
"config": {
 "font": "Liberation Serif",
 "view": {"stroke": null},
 "axis": {"grid": false, "domainColor": "black", "tickColor": "black", "labelColor": "black", "titleColor": "black", "labelFont": "Liberation Serif", "titleFont": "Liberation Serif", "labelFontSize": 21, "titleFontSize": 22, "titleFontWeight": "normal", "labelFlush": false, "labelOverlap": false, "domainWidth": 1, "tickWidth": 1},
 "axisX": {"tickSize": -6, "labelPadding": 6, "titleFontSize": 21, "titlePadding": 8},
 "axisY": {"tickSize": 6, "labelPadding": 5, "titlePadding": 8},
 "title": {"font": "Liberation Serif", "fontSize": 19, "fontWeight": "bold", "color": "black", "anchor": "middle", "frame": "group", "baseline": "alphabetic"}
}
}
